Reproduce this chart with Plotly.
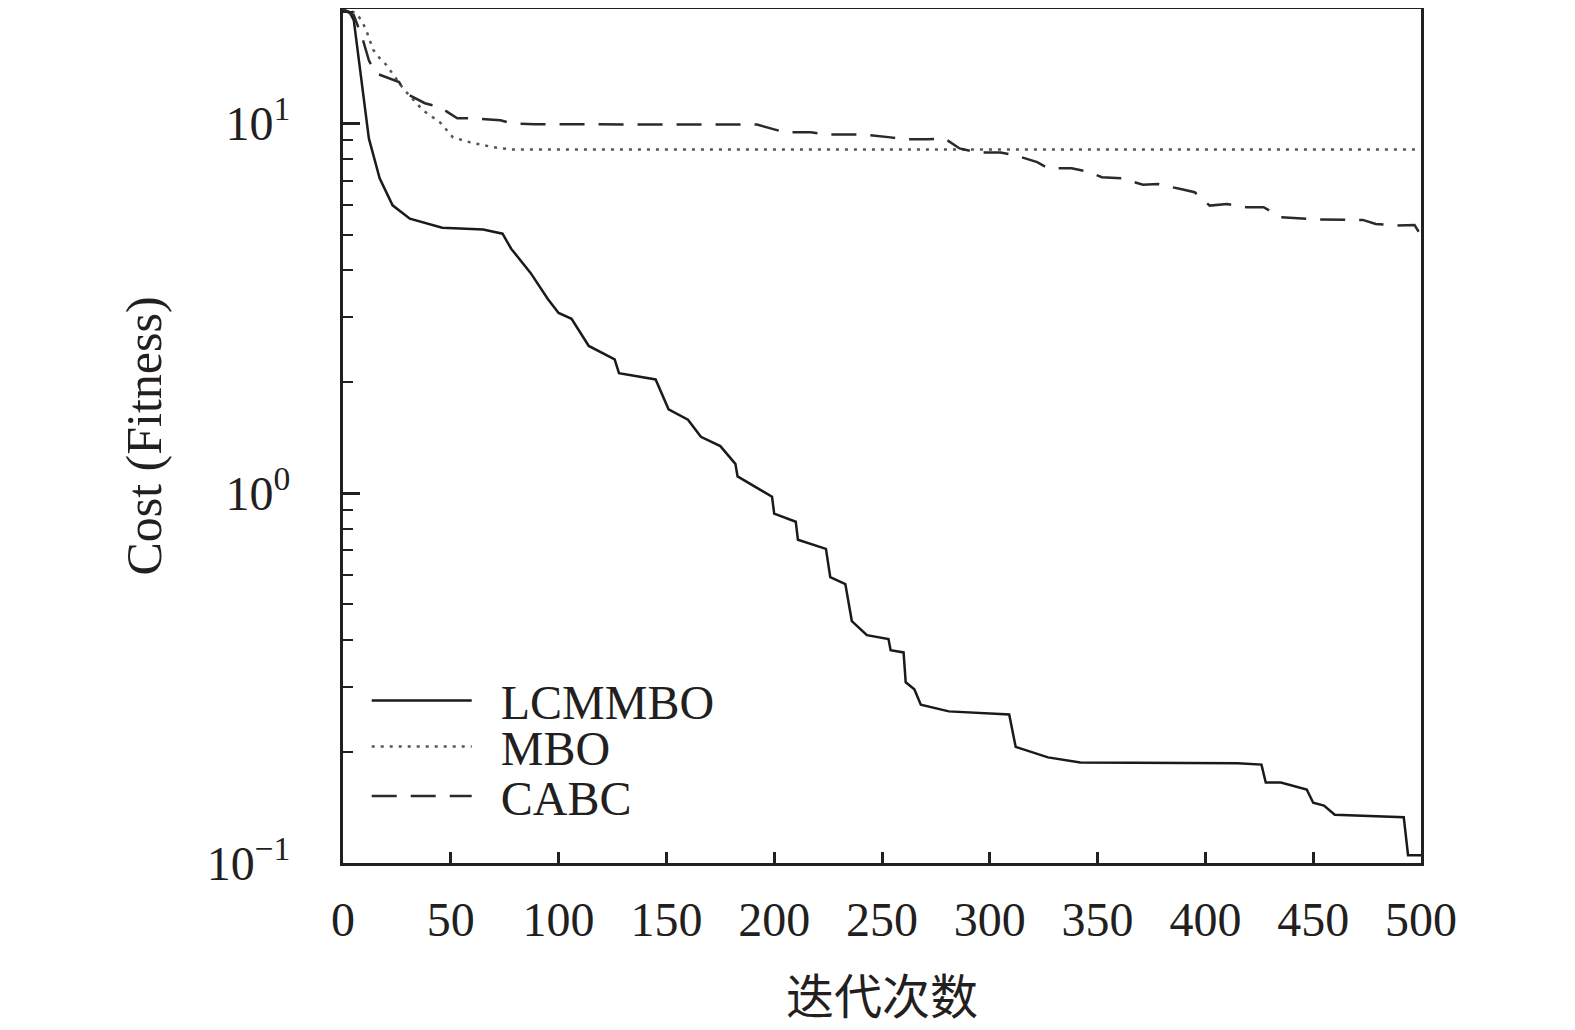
import plotly.graph_objects as go

# iteration numbers and cost values
lcmmbo_iter = [0, 3, 5, 7, 9, 12, 17, 23, 31, 46, 65, 74, 78, 87, 95, 100, 106, 114, 126, 128, 145, 151,
               160, 166, 175, 182, 183, 199, 200, 210, 211, 224, 226, 233, 236, 243, 253, 254, 260, 261, 265, 268,
               281, 309, 312, 327, 342, 415, 426, 428, 435, 447, 450, 455, 460, 492, 494, 500]
lcmmbo_cost = [20.3, 20.0, 19.0, 15.5, 12.6, 9.1, 7.1, 6.0, 5.52, 5.22, 5.16, 5.03, 4.58, 3.94, 3.35, 3.07, 2.96, 2.50, 2.30, 2.11, 2.03, 1.685,
               1.58, 1.42, 1.34, 1.20, 1.11, 0.978, 0.88, 0.837, 0.748, 0.707, 0.593, 0.568, 0.451, 0.413, 0.403, 0.376, 0.371, 0.308, 0.295, 0.268,
               0.257, 0.252, 0.206, 0.193, 0.187, 0.186, 0.1845, 0.165, 0.165, 0.158, 0.1455, 0.143, 0.135, 0.133, 0.105, 0.105]

mbo_iter = [0, 6, 9, 11, 14, 17, 20, 28, 37, 45, 51, 59, 70, 78, 500]
mbo_cost = [20.3, 19.9, 18.8, 17.7, 15.8, 15.0, 14.4, 12.4, 10.85, 10.06, 9.16, 8.88, 8.61, 8.50, 8.50]

cabc_iter = [0, 5, 9, 12, 15, 26, 29, 38, 45, 53, 60, 73, 78, 89, 192, 205, 217, 225, 235, 242,
             254, 260, 271, 279, 286, 294, 305, 312, 322, 327, 338, 345, 352, 361, 371, 378, 388, 395, 402, 410,
             419, 427, 435, 443, 453, 473, 479, 489, 497, 500]
cabc_cost = [20.3, 19.6, 17.0, 14.8, 13.67, 12.92, 12.06, 11.33, 11.05, 10.32, 10.32, 10.19, 10.0, 9.94, 9.92, 9.45, 9.45, 9.33, 9.33, 9.32,
             9.16, 9.05, 9.05, 9.10, 8.55, 8.34, 8.34, 8.19, 7.85, 7.56, 7.56, 7.41, 7.15, 7.10, 6.82, 6.85, 6.65, 6.51, 5.99, 6.05,
             5.93, 5.93, 5.57, 5.53, 5.49, 5.48, 5.34, 5.29, 5.31, 4.97]

x_ticks = [0, 50, 100, 150, 200, 250, 300, 350, 400, 450, 500]
y_ticks = [0.1, 1, 10]
y_ticktext = ['10<sup>\u22121</sup>', '10<sup>0</sup>', '10<sup>1</sup>']
y_minor = [0.2, 0.3, 0.4, 0.5, 0.6, 0.7, 0.8, 0.9, 2, 3, 4, 5, 6, 7, 8, 9, 20]

serif = 'Liberation Serif, Times New Roman, Noto Sans CJK SC, serif'
ink = '#231f20'
gap = '\u00a0\u00a0'

fig = go.Figure()

fig.add_trace(go.Scatter(x=lcmmbo_iter, y=lcmmbo_cost, mode='lines', name=gap + 'LCMMBO', legend='legend',
                         line=dict(color='#1a1a1a', width=2.5)))
fig.add_trace(go.Scatter(x=mbo_iter, y=mbo_cost, mode='lines', name=gap + 'MBO', legend='legend2',
                         line=dict(color='#555555', width=2.5, dash='3px,6px')))
fig.add_trace(go.Scatter(x=cabc_iter, y=cabc_cost, mode='lines', name=gap + 'CABC', legend='legend3',
                         line=dict(color='#2a2a2a', width=2.5, dash='25px,14px')))

leg = dict(x=0.022, xanchor='left', yanchor='middle', bgcolor='rgba(0,0,0,0)',
           itemwidth=100, font=dict(size=48, color=ink))

fig.update_layout(width=1575, height=1030,
                  margin=dict(l=335, r=162, t=1, b=175, autoexpand=False),
                  paper_bgcolor='white', plot_bgcolor='white',
                  font=dict(family=serif, size=48, color=ink),
                  showlegend=True,
                  legend=dict(leg, y=0.19),
                  legend2=dict(leg, y=0.136),
                  legend3=dict(leg, y=0.078))

fig.update_xaxes(range=[0, 500], tickvals=x_ticks, ticks='inside', ticklen=11, tickwidth=3,
                 tickcolor=ink, showline=True, linewidth=3, linecolor=ink, mirror=True,
                 showgrid=False, zeroline=False, ticklabelstandoff=12,
                 title=dict(text='迭代次数', font=dict(size=48), standoff=36))

fig.update_yaxes(type='log', range=[-1, 1.309], tickvals=y_ticks, ticktext=y_ticktext,
                 ticks='inside', ticklen=17, tickwidth=3, tickcolor=ink,
                 minor=dict(tickvals=y_minor, ticks='inside', ticklen=10, tickwidth=2, tickcolor=ink, showgrid=False),
                 showline=True, linewidth=3, linecolor=ink, mirror=True,
                 showgrid=False, zeroline=False, ticklabelstandoff=40,
                 title=dict(text='Cost (Fitness)', font=dict(size=50), standoff=30))

fig.write_html("out.html")
